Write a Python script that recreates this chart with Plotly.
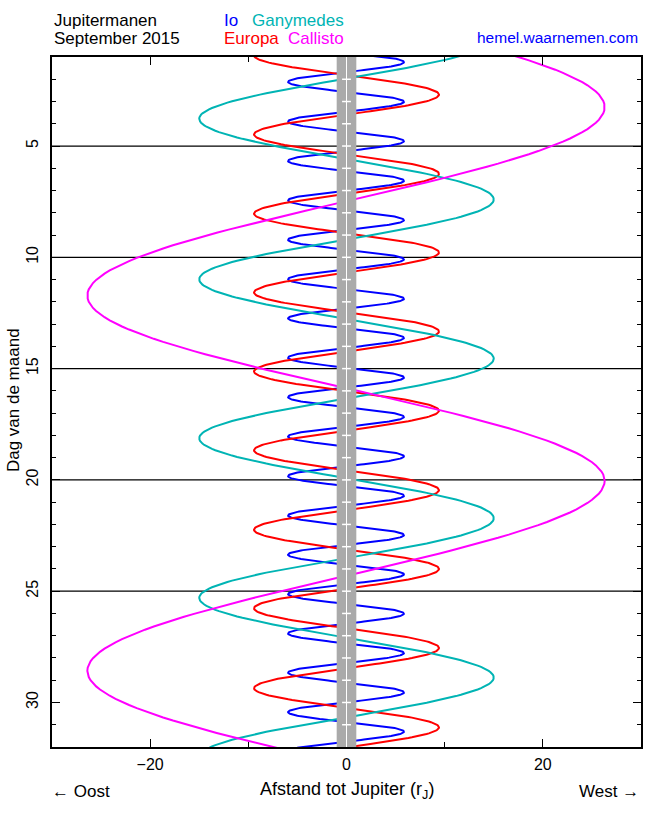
import math
import plotly.graph_objects as go

# ---- data: elongation extremes (day of month, distance in r_J) ----
io_days = [0.35, 1.23, 2.12, 3.01, 3.90, 4.78, 5.67, 6.56, 7.44, 8.33, 9.21, 10.09, 10.98,
           11.86, 12.74, 13.62, 14.51, 15.40, 16.28, 17.17, 18.05, 18.94, 19.83, 20.71,
           21.60, 22.48, 23.36, 24.24, 25.13, 26.01, 26.90, 27.78, 28.66, 29.55, 30.43,
           31.31, 32.20]
io_x = [-5.95, 5.85, -5.95, 5.85, -5.95, 5.85, -5.95, 5.85, -5.95, 5.85, -5.95, 5.85, -5.95,
        5.85, -5.95, 5.85, -5.95, 5.85, -5.95, 5.85, -5.95, 5.85, -5.95, 5.85, -5.95, 5.85,
        -5.95, 5.85, -5.95, 5.85, -5.95, 5.85, -5.95, 5.85, -5.95, 5.85, -5.95]

europa_days = [0.93, 2.69, 4.48, 6.25, 8.04, 9.78, 11.58, 13.33, 15.13, 16.89, 18.67, 20.46,
               22.24, 24.00, 25.77, 27.55, 29.36, 31.12, 32.90]
europa_x = [-9.42, 9.42, -9.42, 9.42, -9.42, 9.42, -9.42, 9.42, -9.42, 9.42, -9.42, 9.42,
            -9.42, 9.42, -9.42, 9.42, -9.42, 9.42, -9.42]

ganymedes_days = [0.17, 3.77, 7.40, 10.99, 14.55, 18.13, 21.72, 25.30, 28.88, 32.45]
ganymedes_x = [15.0, -15.0, 15.0, -15.0, 15.0, -15.0, 15.0, -15.0, 15.0, -15.0]

callisto_days = [-5.15, 3.25, 11.72, 20.04, 28.58, 36.95]
callisto_x = [-26.4, 26.3, -26.4, 26.3, -26.4, 26.3]

moon_names = ["Io", "Europa", "Ganymedes", "Callisto"]
moon_colors = ["#0000ff", "#ff0000", "#00b4b4", "#ff00ff"]

grid_days = [5, 10, 15, 20, 25]
y_tick_vals = [5, 10, 15, 20, 25, 30]
x_tick_vals = [-20, 0, 20]
x_tick_text = ["\u221220", "0", "20"]
x_minor_vals = [-10, 10]
jupiter_mark_days = list(range(2, 32))


def orbit_path(days, xs, n=60):
    ys, xv = [], []
    for i in range(len(days) - 1):
        t0, t1, x0, x1 = days[i], days[i + 1], xs[i], xs[i + 1]
        for k in range(n):
            s = k / n
            ys.append(t0 + (t1 - t0) * s)
            xv.append((x0 + x1) / 2 + (x0 - x1) / 2 * math.cos(math.pi * s))
    ys.append(days[-1])
    xv.append(xs[-1])
    return xv, ys


FONT = "Liberation Sans, Arial, sans-serif"
fig = go.Figure()
for name, col, (d, x) in zip(moon_names, moon_colors,
                             [(io_days, io_x), (europa_days, europa_x),
                              (ganymedes_days, ganymedes_x), (callisto_days, callisto_x)]):
    px, py = orbit_path(d, x)
    fig.add_trace(go.Scatter(x=px, y=py, mode="lines", name=name,
                             line=dict(color=col, width=2), hoverinfo="skip"))

shapes = []
for g in grid_days:
    shapes.append(dict(type="line", xref="x", yref="y", x0=-30, x1=30, y0=g, y1=g,
                       line=dict(color="black", width=1.3), layer="below"))
shapes.append(dict(type="rect", xref="x", yref="y", x0=-1, x1=1, y0=1, y1=32,
                   fillcolor="#aaaaaa", line=dict(width=0), layer="above"))
shapes.append(dict(type="line", xref="x", yref="y", x0=0, x1=0, y0=1, y1=32,
                   line=dict(color="white", width=1), layer="above"))
for d in jupiter_mark_days:
    shapes.append(dict(type="line", xref="x", yref="y", x0=-0.45, x1=0.45, y0=d, y1=d,
                       line=dict(color="white", width=1.5), layer="above"))

ann = []
def add_text(text, x, y, xa, color="black", size=17, angle=0):
    ann.append(dict(text=text, x=x, y=y, xref="paper", yref="paper", xanchor=xa,
                    yanchor="middle", showarrow=False, textangle=angle,
                    font=dict(family=FONT, size=size, color=color)))

add_text("Jupitermanen", 0.0, 1.0529, "left")
add_text("September 2015", 0.0, 1.0261, "left")
add_text("Io", 0.289, 1.0529, "left", "#0000ff")
add_text("Europa", 0.289, 1.0261, "left", "#ff0000")
add_text("Ganymedes", 0.4992, 1.0529, "right", "#00b4b4")
add_text("Callisto", 0.4992, 1.0261, "right", "#ff00ff")
add_text("hemel.waarnemen.com", 0.998, 1.0283, "right", "#0000ff", 15.5)
add_text("\u2190 Oost", -0.004, -0.0638, "left")
add_text("West \u2192", 1.0, -0.0638, "right")
add_text("Afstand tot Jupiter (r<sub>J</sub>)", 0.5, -0.0625, "center", size=18)
add_text("Dag van de maand", -0.0643, 0.503, "center", angle=-90)

fig.update_layout(
    width=650, height=813,
    margin=dict(l=52, r=7, t=57, b=66),
    paper_bgcolor="white", plot_bgcolor="white",
    showlegend=False,
    shapes=shapes, annotations=ann,
    font=dict(family=FONT, size=16, color="black"),
    xaxis=dict(range=[-30, 30], tickvals=x_tick_vals, ticktext=x_tick_text,
               ticks="inside", ticklen=8, tickwidth=1.3, tickcolor="black",
               showgrid=False, zeroline=False, showline=True, linecolor="black",
               linewidth=1.5, mirror="ticks", ticklabelstandoff=2,
               minor=dict(tickvals=x_minor_vals, ticks="inside", ticklen=5,
                          tickwidth=1.3, tickcolor="black", showgrid=False)),
    yaxis=dict(range=[32, 1], tickvals=y_tick_vals, tickangle=-90,
               ticks="inside", ticklen=8, tickwidth=1.3, tickcolor="black",
               showgrid=False, zeroline=False, showline=True, linecolor="black",
               linewidth=1.5, mirror="ticks", ticklabelstandoff=6,
               minor=dict(dtick=1, tick0=0, ticks="inside", ticklen=4,
                          tickwidth=1.3, tickcolor="black", showgrid=False)),
)

fig.write_html("out.html")
